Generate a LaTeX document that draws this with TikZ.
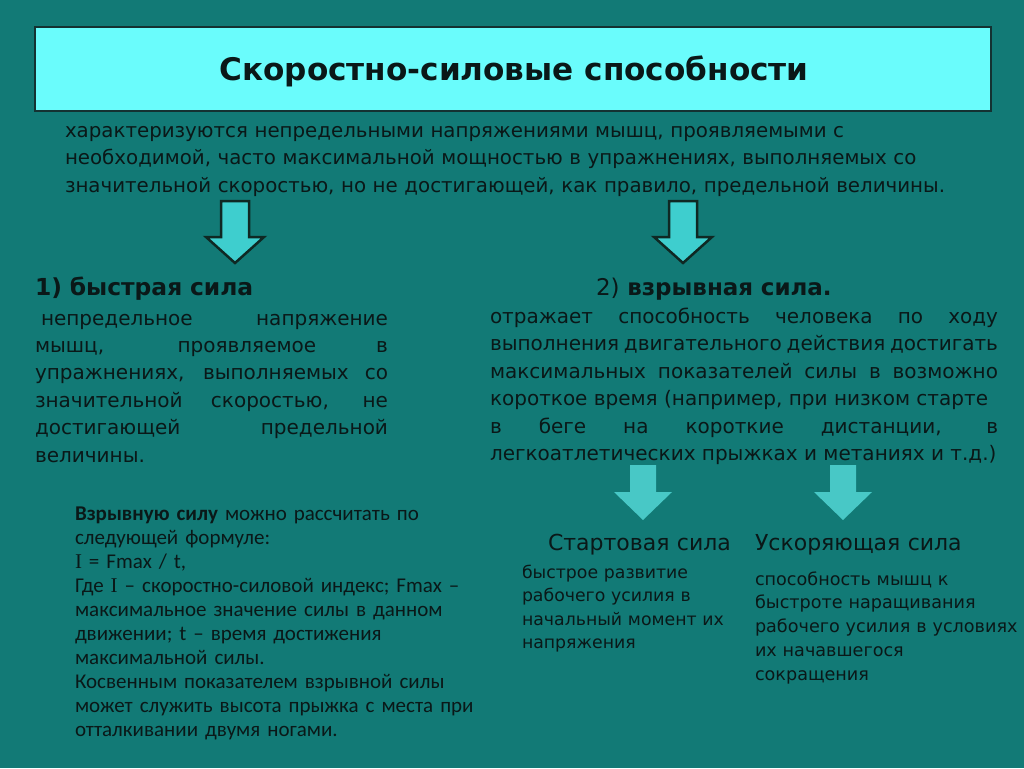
\documentclass[tikz,border=0pt]{standalone}
\usepackage{fontspec}
\setmainfont{DejaVu Sans}
\newfontfamily\carl[Ligatures=TeX]{Carlito}
\newfontfamily\serifI{Liberation Serif}
\definecolor{bg}{RGB}{18,122,118}
\definecolor{titlefill}{RGB}{106,252,252}
\definecolor{boxline}{RGB}{20,50,50}
\definecolor{txt}{RGB}{10,24,24}
\definecolor{arrowA}{RGB}{62,206,206}
\definecolor{arrowB}{RGB}{72,200,198}
\definecolor{arrowline}{RGB}{15,40,35}
\tikzset{
  titlebox/.style={draw=boxline, line width=1.5pt, fill=titlefill, minimum width=956pt, minimum height=84pt},
  para/.style={anchor=base west, align=justify},
  plain/.style={anchor=base west, align=left, text width=520pt},
  bigarrow/.style={fill=arrowA, draw=arrowline, line width=2.5pt, line join=miter},
  smallarrow/.style={fill=arrowB}
}
\newcommand{\downarrowshape}[5]{% cx, top, headstart, tip, style
  \filldraw[#5] (#1-14,#2) -- (#1+14,#2) -- (#1+14,#3) -- (#1+29,#3) -- (#1,#4) -- (#1-29,#3) -- (#1-14,#3) -- cycle;}
\newcommand{\smalldown}[2]{% cx, style
  \fill[#2] (#1-13,465) -- (#1+13,465) -- (#1+13,492) -- (#1+29,492) -- (#1,520) -- (#1-29,492) -- (#1-13,492) -- cycle;}
\begin{document}
\begin{tikzpicture}[x=1pt,y=-1pt, every node/.style={inner sep=0pt, outer sep=0pt, text=txt}]
\fill[bg] (0,0) rectangle (1024,768);
\useasboundingbox (0,0) rectangle (1024,768);
\hyphenpenalty=10000 \tolerance=10000

% title
\node[titlebox] (title) at (513,69) {};
\node[anchor=base, font=\bfseries\fontsize{31.1}{34}\selectfont] (titletext) at (514,81) {Скоростно-силовые способности};

% intro
\node[plain, text width=940pt, font=\fontsize{19.8}{27.5}\selectfont] (intro) at (65,137) {%
характеризуются непредельными напряжениями мышц, проявляемыми с\\
необходимой, часто максимальной мощностью в упражнениях, выполняемых со\\
значительной скоростью, но не достигающей, как правило, предельной величины.};

% big arrows
\downarrowshape{235}{201}{237}{263}{bigarrow}
\downarrowshape{683}{201}{237}{263}{bigarrow}

% left column
\node[plain, font=\fontsize{23.4}{26}\selectfont\bfseries] (fasthead) at (35,295) {1) быстрая сила};
\node[para, text width=353pt, font=\fontsize{20}{27.4}\selectfont] (fasttext) at (35,325) {%
\hspace*{6pt}непредельное напряжение\linebreak
мышц, проявляемое в\linebreak
упражнениях, выполняемых со\linebreak
значительной скоростью, не\linebreak
достигающей предельной\linebreak
величины.};

% right column
\node[plain, text width=400pt, font=\fontsize{23}{26}\selectfont] (explhead) at (596,295) {2) \textbf{взрывная сила.}};
\node[para, text width=508pt, font=\fontsize{20}{27.5}\selectfont] (expltext) at (490,323) {%
отражает способность человека по ходу\linebreak
выполнения двигательного действия достигать\linebreak
максимальных показателей силы в возможно\linebreak
короткое время (например, при низком старте\newline
в беге на короткие дистанции, в\linebreak
легкоатлетических прыжках и метаниях и т.д.)};

% small arrows
\smalldown{643}{smallarrow}
\smalldown{843}{smallarrow}

% formula block
\node[plain, text width=430pt, font=\carl\fontsize{21}{24}\selectfont] (formula) at (75,520) {%
\textbf{Взрывную силу} можно рассчитать по\\
следующей формуле:\\
{\serifI I} = Fmax / t,\\
Где {\serifI I} – скоростно-силовой индекс; Fmax –\\
максимальное значение силы в данном\\
движении; t – время достижения\\
максимальной силы.\\
Косвенным показателем взрывной силы\\
может служить высота прыжка с места при\\
отталкивании двумя ногами.};

% start / accelerating force
\node[plain, text width=220pt, font=\fontsize{22}{26}\selectfont] (starthead) at (548,550) {Стартовая сила};
\node[plain, text width=260pt, font=\fontsize{22}{26}\selectfont] (acchead) at (755,550) {Ускоряющая сила};
\node[plain, text width=220pt, font=\fontsize{17.3}{23.5}\selectfont] (starttext) at (522,578) {%
быстрое развитие\\
рабочего усилия в\\
начальный момент их\\
напряжения};
\node[plain, text width=269pt, font=\fontsize{17.6}{23.8}\selectfont] (acctext) at (755,585) {%
способность мышц к\\
быстроте наращивания\\
рабочего усилия в условиях\\
их начавшегося\\
сокращения};
\end{tikzpicture}
\end{document}
